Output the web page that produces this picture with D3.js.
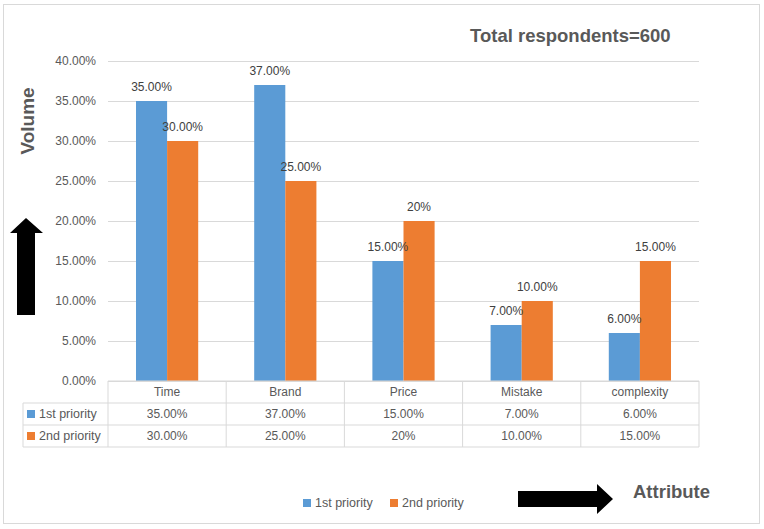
<!DOCTYPE html>
<html>
<head>
<meta charset="utf-8">
<script src="https://cdn.jsdelivr.net/npm/d3@7"></script>
<style>
  body { margin: 0; background: #fff; }
  text { font-family: "Liberation Sans", Arial, sans-serif; }
</style>
</head>
<body>
<svg width="764" height="529"></svg>
<script>
// data
const categories = ["Time", "Brand", "Price", "Mistake", "complexity"];
const series = ["1st priority", "2nd priority"];
const first = [0.35, 0.37, 0.15, 0.07, 0.06];
const second = [0.30, 0.25, 0.20, 0.10, 0.15];
const firstLabels = ["35.00%", "37.00%", "15.00%", "7.00%", "6.00%"];
const secondLabels = ["30.00%", "25.00%", "20%", "10.00%", "15.00%"];
const yTicks = [0, 0.05, 0.10, 0.15, 0.20, 0.25, 0.30, 0.35, 0.40];
const colors = ["#5b9bd5", "#ed7d31"];

const svg = d3.select("svg");

// outer border
svg.append("rect")
    .attr("x", 3.5).attr("y", 4.5)
    .attr("width", 756).attr("height", 519)
    .attr("fill", "none").attr("stroke", "#d9d9d9");

const plot = { left: 108, right: 699, top: 61, bottom: 381 };

// 1. scales
const xScale = d3.scaleBand()
    .domain(categories)
    .range([plot.left, plot.right]);

const xInner = d3.scaleBand()
    .domain(series)
    .range([0, xScale.bandwidth()])
    .paddingOuter(0.9);

const yScale = d3.scaleLinear()
    .domain([0, 0.4])
    .range([plot.bottom, plot.top]);

// 2. grid + y axis
const yAxis = svg.append("g")
    .attr("transform", "translate(" + plot.left + ",0)")
    .call(d3.axisLeft(yScale)
        .tickValues(yTicks)
        .tickFormat(d3.format(".2%"))
        .tickSize(-(plot.right - plot.left))
        .tickPadding(12));
yAxis.select(".domain").remove();
yAxis.selectAll(".tick line").attr("stroke", "#d9d9d9");
yAxis.selectAll(".tick text")
    .attr("fill", "#595959")
    .style("font-size", "12px");

// 3. bars
const rows = categories.map((c, i) => ({ cat: c, vals: [first[i], second[i]], labels: [firstLabels[i], secondLabels[i]] }));

const groups = svg.append("g").selectAll("g")
    .data(rows)
    .enter()
    .append("g")
    .attr("transform", d => "translate(" + xScale(d.cat) + ",0)");

groups.selectAll("rect")
    .data(d => d.vals.map((v, j) => ({ s: series[j], v: v, j: j })))
    .enter()
    .append("rect")
    .attr("x", d => xInner(d.s))
    .attr("width", xInner.bandwidth())
    .attr("y", d => yScale(d.v))
    .attr("height", d => yScale(0) - yScale(d.v))
    .attr("fill", d => colors[d.j]);

groups.selectAll("text")
    .data(d => d.vals.map((v, j) => ({ s: series[j], v: v, label: d.labels[j] })))
    .enter()
    .append("text")
    .text(d => d.label)
    .attr("x", d => xInner(d.s) + xInner.bandwidth() / 2)
    .attr("y", d => yScale(d.v) - 10)
    .attr("text-anchor", "middle")
    .attr("fill", "#404040")
    .style("font-size", "12px");

// 4. data table
const rowH = 22;
const tableTop = plot.bottom;
const legendLeft = 23;
const table = svg.append("g");
const lineColor = "#d9d9d9";

// horizontal lines
table.append("line")
    .attr("x1", plot.left).attr("x2", plot.right)
    .attr("y1", tableTop).attr("y2", tableTop)
    .attr("stroke", lineColor);
[1, 2, 3].forEach(r => {
    table.append("line")
        .attr("x1", legendLeft).attr("x2", plot.right)
        .attr("y1", tableTop + r * rowH).attr("y2", tableTop + r * rowH)
        .attr("stroke", lineColor);
});
// vertical lines
table.append("line")
    .attr("x1", legendLeft).attr("x2", legendLeft)
    .attr("y1", tableTop + rowH).attr("y2", tableTop + 3 * rowH)
    .attr("stroke", lineColor);
categories.concat([null]).forEach(c => {
    const x = c === null ? plot.right : xScale(c);
    table.append("line")
        .attr("x1", x).attr("x2", x)
        .attr("y1", tableTop).attr("y2", tableTop + 3 * rowH)
        .attr("stroke", lineColor);
});

// category row
table.selectAll(".cat")
    .data(categories)
    .enter()
    .append("text")
    .attr("class", "cat")
    .text(d => d)
    .attr("x", d => xScale(d) + xScale.bandwidth() / 2)
    .attr("y", tableTop + rowH / 2 + 4)
    .attr("text-anchor", "middle")
    .attr("fill", "#595959")
    .style("font-size", "12px");

// series rows
const seriesLabels = [firstLabels, secondLabels];
series.forEach((s, j) => {
    const yMid = tableTop + (j + 1) * rowH + rowH / 2;
    table.append("rect")
        .attr("x", legendLeft + 4).attr("y", yMid - 4)
        .attr("width", 8).attr("height", 8)
        .attr("fill", colors[j]);
    table.append("text")
        .text(s)
        .attr("x", legendLeft + 16)
        .attr("y", yMid + 4)
        .attr("fill", "#595959")
        .style("font-size", "12.5px");
    table.selectAll(".v" + j)
        .data(categories)
        .enter()
        .append("text")
        .attr("class", "v" + j)
        .text((d, i) => seriesLabels[j][i])
        .attr("x", d => xScale(d) + xScale.bandwidth() / 2)
        .attr("y", yMid + 4)
        .attr("text-anchor", "middle")
        .attr("fill", "#595959")
        .style("font-size", "12px");
});

// 5. bottom legend
const legend = svg.append("g").attr("transform", "translate(303,503)");
const legendX = [0, 87];
series.forEach((s, j) => {
    legend.append("rect")
        .attr("x", legendX[j]).attr("y", -4)
        .attr("width", 8).attr("height", 8)
        .attr("fill", colors[j]);
    legend.append("text")
        .text(s)
        .attr("x", legendX[j] + 12)
        .attr("y", 4)
        .attr("fill", "#595959")
        .style("font-size", "12.5px");
});

// 6. titles and arrows
svg.append("text")
    .text("Total respondents=600")
    .attr("x", 470).attr("y", 42)
    .attr("fill", "#595959")
    .style("font-size", "18.5px")
    .style("font-weight", "bold");

svg.append("text")
    .text("Volume")
    .attr("transform", "translate(34,121) rotate(-90)")
    .attr("text-anchor", "middle")
    .attr("fill", "#595959")
    .style("font-size", "19px")
    .style("font-weight", "bold");

svg.append("text")
    .text("Attribute")
    .attr("x", 633).attr("y", 498)
    .attr("fill", "#595959")
    .style("font-size", "18.5px")
    .style("font-weight", "bold");

// up arrow
svg.append("path")
    .attr("d", "M26,218 L43,233 L35,233 L35,315 L17,315 L17,233 L10,233 Z")
    .attr("fill", "#000");

// right arrow
svg.append("path")
    .attr("d", "M518,491 L597,491 L597,484 L613,499 L597,514 L597,507 L518,507 Z")
    .attr("fill", "#000");
</script>
</body>
</html>
